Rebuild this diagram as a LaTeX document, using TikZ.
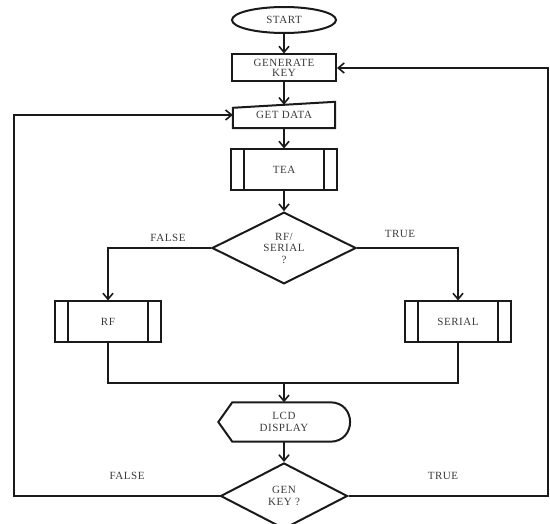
\documentclass[tikz,border=0pt]{standalone}
\usepackage{fontspec}
\setmainfont[LetterSpace=5]{Liberation Serif}
\usetikzlibrary{shapes.geometric,arrows.meta,calc}
\definecolor{ink}{HTML}{1A1A1A}
\definecolor{txt}{HTML}{3A3A3A}
\begin{document}
\begin{tikzpicture}[x=1pt,y=-1pt,
  every node/.style={font=\fontsize{11}{11.5}\selectfont, text=txt, inner sep=0pt, align=center},
  line/.style={draw=ink, line width=2pt},
  arr/.style={line, -{Straight Barb[length=6pt,width=10pt,line width=1.6pt]}},
  termbox/.style={line, ellipse, minimum width=104pt, minimum height=26pt},
  procbox/.style={line, rectangle, minimum width=104pt, minimum height=27pt},
  subbox/.style={line, rectangle, minimum width=106pt, minimum height=41pt,
    path picture={
      \draw[ink, line width=2pt]
        ([xshift=13pt]path picture bounding box.north west) -- ([xshift=13pt]path picture bounding box.south west)
        ([xshift=-13pt]path picture bounding box.north east) -- ([xshift=-13pt]path picture bounding box.south east);
    }},
  decbox/.style={line, diamond},
  lbl/.style={font=\fontsize{11}{12}\selectfont}
]
\useasboundingbox (0,0) rectangle (550,524);

% main column
\node[termbox] (start) at (284,20) {START};
\node[procbox] (gen) at (284,68) {GENERATE\\[-1pt]KEY};
\node[minimum width=102pt, minimum height=26pt] (get) at (284,115) {GET DATA};
\draw[line] (get.south west) -- (get.south east) -- (get.north east)
  -- ([yshift=-6pt]get.north west) -- cycle;
\node[subbox] (tea) at (284,170) {TEA};
\node[decbox, minimum width=144pt, minimum height=64pt] (rfs) at (284,248) {RF/\\SERIAL\\?};

% two branches
\node[subbox] (rf) at (108,322) {RF};
\node[subbox] (serial) at (458,322) {SERIAL};

% display and final decision
\node[minimum width=131pt, minimum height=39pt] (lcd) at (284,422) {LCD\\DISPLAY};
\draw[line] (lcd.west) -- ([xshift=14pt]lcd.north west)
  -- ([xshift=-19.5pt]lcd.north east)
  .. controls ([xshift=7pt]lcd.north east) and ([xshift=7pt]lcd.south east) .. ([xshift=-19.5pt]lcd.south east)
  -- ([xshift=14pt]lcd.south west) -- cycle;
\node[decbox, minimum width=127pt, minimum height=66pt] (genk) at (284,496) {GEN\\KEY ?};

\coordinate (merge) at (284,383);
\coordinate (lft) at (14,496);
\coordinate (rgt) at (548,496);

% connectors
\draw[arr] (start) -- (gen);
\draw[arr] (gen) -- ([yshift=-3pt]get.north);
\draw[arr] (get) -- (tea);
\draw[arr] (tea) -- (rfs);
\draw[arr] (rfs.west) -| (rf.north);
\draw[arr] (rfs.east) -| (serial.north);
\draw[line] (rf.south) -- (rf.south |- merge) -- (serial.south |- merge) -- (serial.south);
\draw[arr] (merge) -- (lcd.north);
\draw[arr] (lcd) -- (genk);
\draw[arr] (genk.west) -- (lft) |- (get.west);
\draw[arr] (genk.east) -- (rgt) |- (gen.east);

% branch labels
\node[lbl] at (168,238) {FALSE};
\node[lbl] at (400,234) {TRUE};
\node[lbl] at (127,476) {FALSE};
\node[lbl] at (443,476) {TRUE};
\end{tikzpicture}
\end{document}
